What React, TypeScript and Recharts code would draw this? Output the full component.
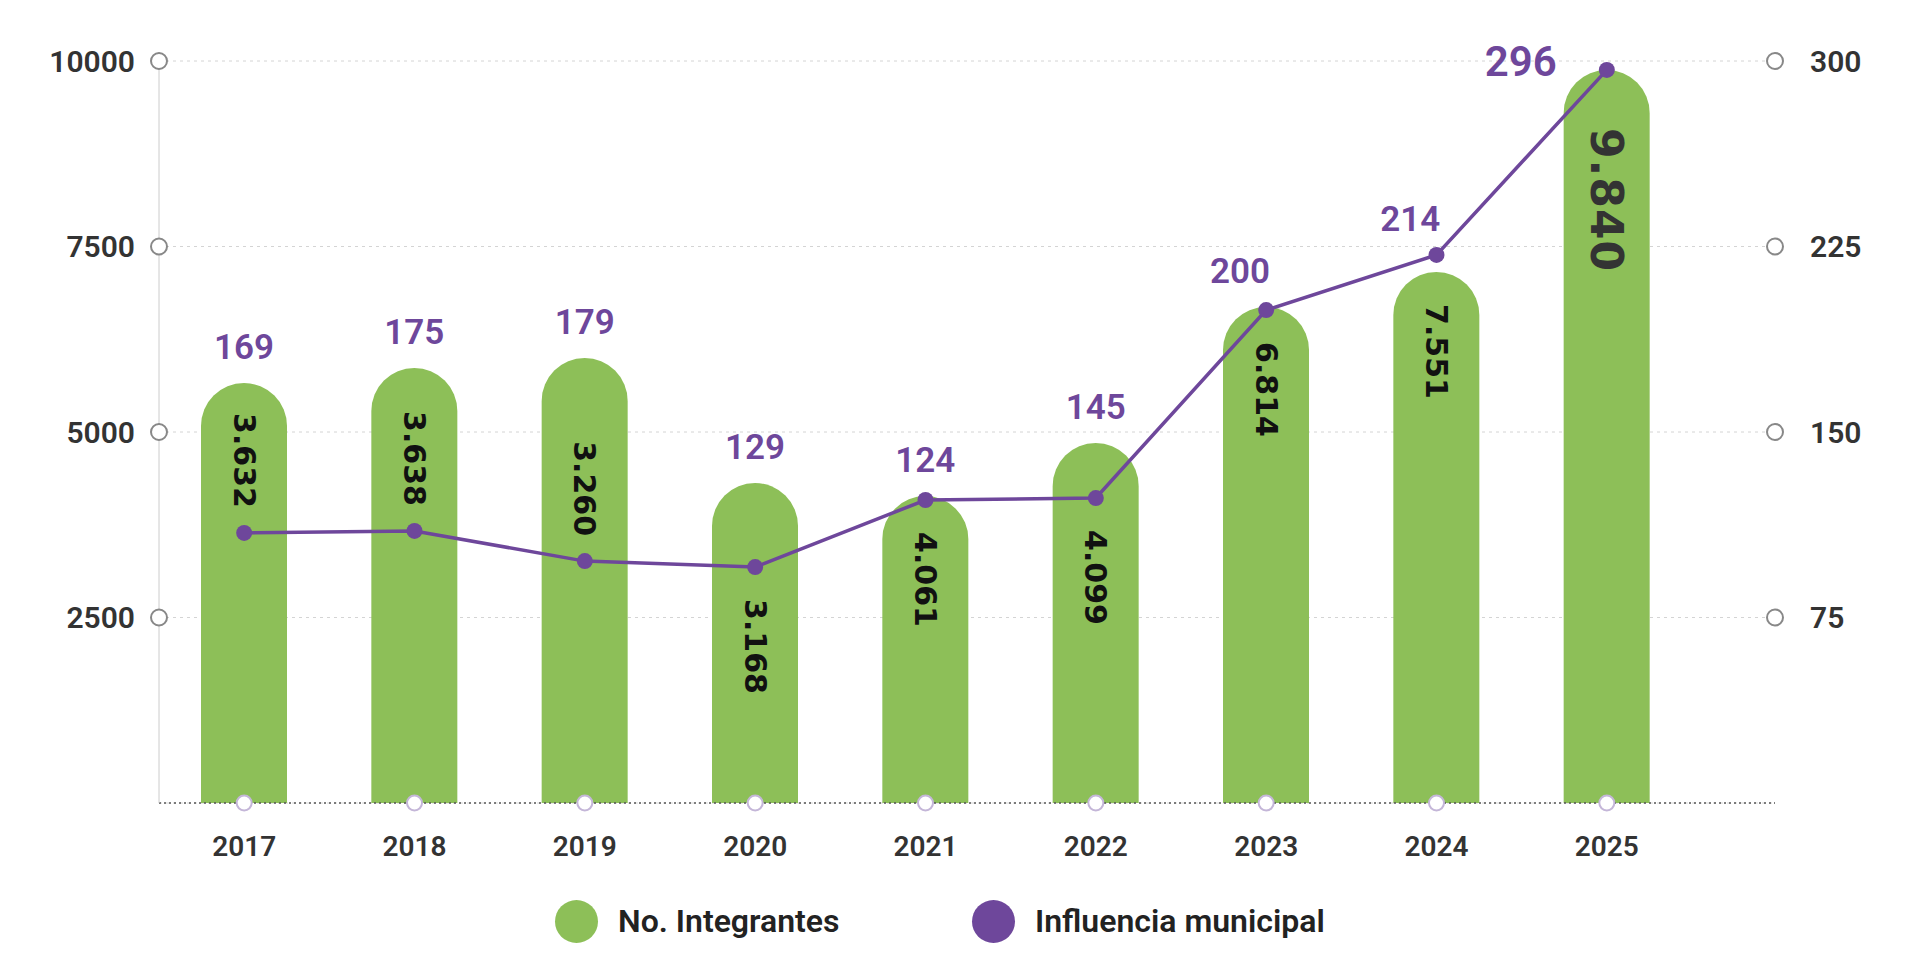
import React from 'react';
import {
  Bar,
  CartesianGrid,
  ComposedChart,
  Legend,
  Line,
  Rectangle,
  XAxis,
  YAxis,
} from 'recharts';

const years = ['2017', '2018', '2019', '2020', '2021', '2022', '2023', '2024', '2025'];
// bar heights as drawn in the picture
const integrantes = [5660, 5863, 5997, 4313, 4137, 4852, 6685, 7156, 9879];
// line points as drawn in the picture (right axis)
const influencia = [109.2, 110.0, 97.8, 95.4, 122.5, 123.3, 199.3, 221.6, 296.4];
const integrantesLabels = ['3.632', '3.638', '3.260', '3.168', '4.061', '4.099', '6.814', '7.551', '9.840'];
const influenciaLabels = ['169', '175', '179', '129', '124', '145', '200', '214', '296'];
const leftTicks = [2500, 5000, 7500, 10000];
const rightTicks = [75, 150, 225, 300];

const LEFT_MAX = 10000;
const RIGHT_MAX = 300;
const GREEN = '#8dbf58';
const PURPLE = '#6e479b';
const FONT = 'Roboto, "Noto Sans", sans-serif';
const HEAVY = '"DejaVu Sans", Inter, sans-serif';

const data = years.map((year, i) => ({
  year,
  integrantes: integrantes[i],
  influencia: influencia[i],
}));

function IntegrantesBar(props: any) {
  const { x, y, width, height, index } = props;
  const cx = x + width / 2;
  const zeroY = y + height;
  const unitPx = height / integrantes[index];
  const toLineY = (i: number) => zeroY - (influencia[i] / RIGHT_MAX) * LEFT_MAX * unitPx;
  const lineY = toLineY(index);
  const last = index === years.length - 1;

  // rotated value label: above the line if it fits, otherwise below it
  const textLen = 90;
  let rotated: React.ReactNode;
  const rotStyle = {
    fontFamily: HEAVY,
    fontWeight: 700,
    fontSize: 30,
    fill: '#111',
  };
  if (last) {
    const startY = Math.max(y, lineY) + 58;
    rotated = (
      <text
        x={cx}
        y={startY}
        transform={`rotate(90, ${cx}, ${startY})`}
        textAnchor="start"
        dominantBaseline="central"
        fontFamily={HEAVY}
        fontWeight={700}
        fontSize={44}
        letterSpacing={1}
        fill="#333"
      >
        {integrantesLabels[index]}
      </text>
    );
  } else if (lineY - 25 - (y + 25) >= textLen) {
    const endY = lineY - 25;
    rotated = (
      <text
        x={cx}
        y={endY}
        transform={`rotate(90, ${cx}, ${endY})`}
        textAnchor="end"
        dominantBaseline="central"
        {...rotStyle}
      >
        {integrantesLabels[index]}
      </text>
    );
  } else {
    const startY = Math.max(y, lineY) + 32;
    rotated = (
      <text
        x={cx}
        y={startY}
        transform={`rotate(90, ${cx}, ${startY})`}
        textAnchor="start"
        dominantBaseline="central"
        {...rotStyle}
      >
        {integrantesLabels[index]}
      </text>
    );
  }

  let topLabel: React.ReactNode;
  if (last) {
    topLabel = (
      <text
        x={cx - 50}
        y={y + 6}
        textAnchor="end"
        fontFamily={FONT}
        fontWeight={600}
        fontSize={42}
        fill={PURPLE}
      >
        {influenciaLabels[index]}
      </text>
    );
  } else {
    const baseY = Math.min(y, lineY) - 24;
    // nudge left when the next line segment climbs into the label
    const segY = lineY + (toLineY(index + 1) - lineY) * 0.206;
    const dx = segY < baseY + 20 ? -26 : 0;
    topLabel = (
      <text
        x={cx + dx}
        y={baseY}
        textAnchor="middle"
        fontFamily={FONT}
        fontWeight={600}
        fontSize={35}
        fill={PURPLE}
      >
        {influenciaLabels[index]}
      </text>
    );
  }

  return (
    <g>
      <Rectangle
        x={x}
        y={y}
        width={width}
        height={height}
        radius={[width / 2, width / 2, 0, 0]}
        fill={GREEN}
      />
      {rotated}
      {topLabel}
    </g>
  );
}

function YearTick({ x, y, payload }: any) {
  return (
    <g>
      <circle cx={x} cy={y} r={7.5} fill="#fff" stroke="#c4b6d8" strokeWidth={2} />
      <text
        x={x}
        y={y + 53}
        textAnchor="middle"
        fontFamily={FONT}
        fontWeight={600}
        fontSize={28}
        fill="#333"
      >
        {payload.value}
      </text>
    </g>
  );
}

function LeftTick({ x, y, payload }: any) {
  return (
    <g>
      <circle cx={x} cy={y} r={8} fill="#fff" stroke="#888" strokeWidth={2} />
      <text
        x={x - 24}
        y={y}
        textAnchor="end"
        dominantBaseline="central"
        fontFamily={FONT}
        fontWeight={600}
        fontSize={30}
        fill="#333"
      >
        {payload.value}
      </text>
    </g>
  );
}

function RightTick({ x, y, payload }: any) {
  return (
    <g>
      <circle cx={x} cy={y} r={8} fill="#fff" stroke="#888" strokeWidth={2} />
      <text
        x={x + 35}
        y={y}
        textAnchor="start"
        dominantBaseline="central"
        fontFamily={FONT}
        fontWeight={600}
        fontSize={30}
        fill="#333"
      >
        {payload.value}
      </text>
    </g>
  );
}

function ChartLegend() {
  const item = (color: string, label: string, w?: number) => (
    <div style={{ display: 'flex', alignItems: 'center', width: w }}>
      <span
        style={{
          width: 43,
          height: 43,
          borderRadius: '50%',
          background: color,
          display: 'inline-block',
          marginRight: 20,
          flexShrink: 0,
        }}
      />
      <span style={{ fontFamily: FONT, fontWeight: 600, fontSize: 32, color: '#222', whiteSpace: 'nowrap' }}>
        {label}
      </span>
    </div>
  );
  return (
    <div
      style={{
        height: 90,
        display: 'flex',
        alignItems: 'center',
        paddingLeft: 555,
        boxSizing: 'border-box',
      }}
    >
      {item(GREEN, 'No. Integrantes', 417)}
      {item(PURPLE, 'Influencia municipal')}
    </div>
  );
}

export default function App() {
  return (
    <div style={{ position: 'absolute', left: 0, top: 0, width: 1920, height: 966, background: '#fff' }}>
      <ComposedChart
        width={1920}
        height={966}
        data={data}
        margin={{ top: 61, right: 0, left: 0, bottom: 0 }}
      >
        <CartesianGrid
          yAxisId="left"
          vertical={false}
          stroke="#d4d4d4"
          strokeDasharray="3 4"
        />
        <XAxis
          dataKey="year"
          height={73}
          padding={{ left: 0, right: 83 }}
          axisLine={{ stroke: '#555', strokeDasharray: '2 3', strokeWidth: 1.5 }}
          tickLine={false}
          tickSize={0}
          tickMargin={0}
          tick={<YearTick />}
          interval={0}
        />
        <YAxis
          yAxisId="left"
          width={159}
          domain={[0, LEFT_MAX]}
          ticks={leftTicks}
          axisLine={{ stroke: '#cccccc' }}
          tickLine={false}
          tickSize={0}
          tickMargin={0}
          tick={<LeftTick />}
        />
        <YAxis
          yAxisId="right"
          orientation="right"
          width={145}
          domain={[0, RIGHT_MAX]}
          ticks={rightTicks}
          axisLine={false}
          tickLine={false}
          tickSize={0}
          tickMargin={0}
          tick={<RightTick />}
        />
        <Legend
          verticalAlign="bottom"
          height={90}
          content={() => <ChartLegend />}
        />
        <Bar
          yAxisId="left"
          dataKey="integrantes"
          barSize={86}
          shape={(p: any) => <IntegrantesBar {...p} />}
          isAnimationActive={false}
        />
        <Line
          yAxisId="right"
          dataKey="influencia"
          type="linear"
          stroke={PURPLE}
          strokeWidth={3.5}
          dot={{ r: 8, fill: PURPLE, stroke: 'none' }}
          activeDot={false}
          isAnimationActive={false}
        />
      </ComposedChart>
    </div>
  );
}
